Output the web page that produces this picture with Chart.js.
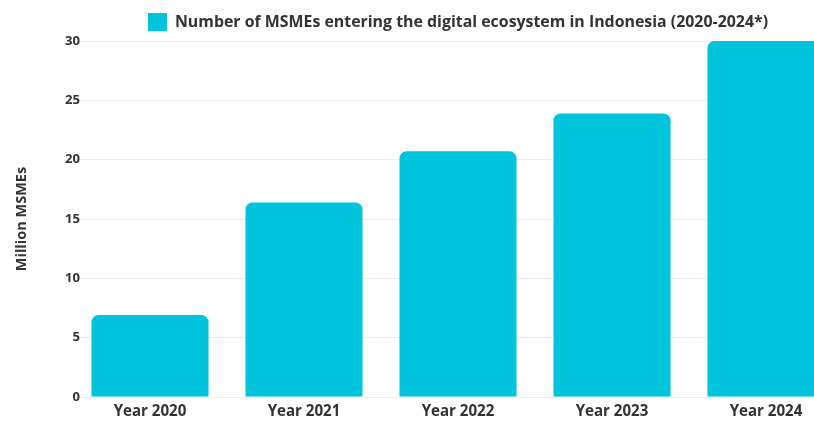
<!DOCTYPE html>
<html>
<head>
<meta charset="utf-8">
<script src="https://cdn.jsdelivr.net/npm/chart.js@4/dist/chart.umd.min.js"></script>
<style>
  html, body { margin: 0; padding: 0; background: #ffffff; overflow: hidden; }
  #wrap { width: 814px; height: 421px; overflow: hidden; position: relative; }
  canvas { display: block; }
</style>
</head>
<body>
<div id="wrap"><canvas id="c" width="850" height="421"></canvas></div>
<script>
const categories = ["Year 2020", "Year 2021", "Year 2022", "Year 2023", "Year 2024"];
const msmeValues = [6.9, 16.4, 20.7, 23.9, 30];
const yTicks = [0, 5, 10, 15, 20, 25, 30];
const seriesLabel = "Number of MSMEs entering the digital ecosystem in Indonesia (2020-2024*)";
const yTitle = "Million MSMEs";

const barColor = "#00c4db";
const textColor = "#333333";
const FAMILY = "'Open Sans'";

// pick font size so the text reaches a target width (style only)
const mctx = document.createElement("canvas").getContext("2d");
function fitSize(text, weight, target) {
  mctx.font = weight + " 20px " + FAMILY;
  const w = mctx.measureText(text).width;
  return Math.round(20 * target / w * 10) / 10;
}
const legendSize = fitSize(seriesLabel, "bold", 593);
const xTickSize = fitSize("Year 2020", "bold", 73);
const yTitleSize = fitSize(yTitle, "bold", 104);
const yTickSize = fitSize("30", "bold", 15);

mctx.font = "bold " + yTickSize + "px " + FAMILY;
const widestTick = mctx.measureText("30").width;

new Chart(document.getElementById("c"), {
  type: "bar",
  data: {
    labels: categories,
    datasets: [{
      label: seriesLabel,
      data: msmeValues,
      backgroundColor: barColor,
      borderWidth: 0,
      borderRadius: 7,
      categoryPercentage: 1,
      barPercentage: 0.76
    }]
  },
  options: {
    responsive: false,
    animation: false,
    layout: { padding: { left: 0, right: 7, top: 0, bottom: 2 } },
    plugins: {
      legend: {
        display: true,
        position: "top",
        fullSize: false,
        labels: {
          color: textColor,
          boxWidth: 19,
          boxHeight: 18,
          padding: 13,
          font: { family: FAMILY, size: legendSize, weight: "bold" }
        }
      },
      tooltip: { enabled: false }
    },
    scales: {
      x: {
        afterFit: (scale) => { scale.height = 22; scale.paddingTop = 0; scale.paddingBottom = 0; },
        grid: { display: false, drawTicks: false },
        border: { display: false },
        ticks: {
          color: textColor,
          padding: 7,
          maxRotation: 0,
          font: { family: FAMILY, size: xTickSize, weight: "bold", lineHeight: 1 }
        }
      },
      y: {
        min: 0,
        max: 30,
        afterBuildTicks: (scale) => { scale.ticks = yTicks.map(v => ({ value: v })); },
        afterFit: (scale) => { scale.width = 73; scale.paddingTop = 0; scale.paddingBottom = 0; },
        grid: { color: "#ededed", lineWidth: 1, drawTicks: false },
        border: { display: false },
        ticks: {
          color: textColor,
          mirror: true,
          crossAlign: "far",
          padding: 80 - 73 - widestTick,
          font: { family: FAMILY, size: yTickSize, weight: "bold" }
        },
        title: {
          display: true,
          text: yTitle,
          color: textColor,
          padding: { top: 13, bottom: 0 },
          font: { family: FAMILY, size: yTitleSize, weight: "bold" }
        }
      }
    }
  }
});
</script>
</body>
</html>
